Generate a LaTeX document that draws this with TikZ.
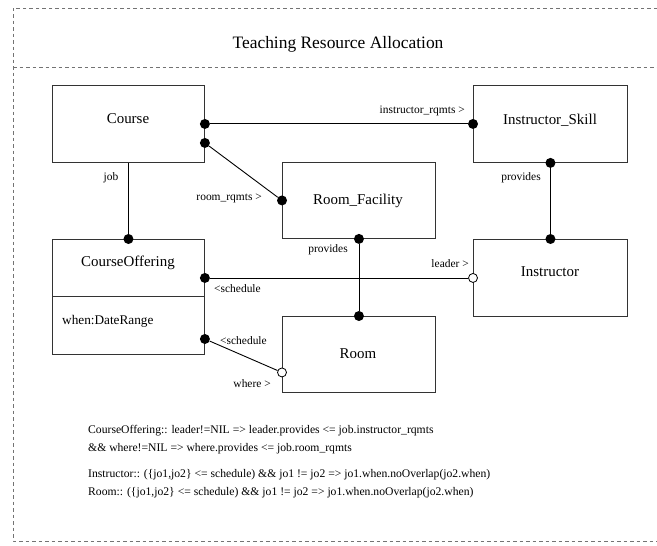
\documentclass[tikz,border=0pt]{standalone}
\usepackage{fontspec}
\setmainfont{Liberation Serif}
\begin{document}
\begin{tikzpicture}[x=1bp,y=-1bp,
  frameline/.style={draw=black!55, line width=0.8bp, dash pattern=on 3.5bp off 3bp},
  classbox/.style={draw=black!80, line width=0.9bp, minimum width=153bp, minimum height=77bp, inner sep=0pt, anchor=north west},
  boxtext/.style={inner sep=0pt, font=\fontsize{15}{18}\selectfont},
  roletext/.style={inner sep=0pt, font=\fontsize{11.5}{13}\selectfont},
  ruletext/.style={inner sep=0pt, anchor=west, font=\fontsize{11.7}{14}\selectfont},
  assoc/.style={draw=black, line width=0.9bp},
  dot/.style={circle, fill=black, inner sep=0pt, minimum size=10bp},
  opendot/.style={circle, draw=black, fill=white, line width=0.8bp, inner sep=0pt, minimum size=9bp}]

\useasboundingbox (0,0) rectangle (657,546);

% package frame with title compartment
\coordinate (ftl) at (13,8);
\coordinate (fsl) at (13,67);
\coordinate (fbl) at (13,541);
\draw[frameline] (ftl -| 657,0) -- (ftl) -- (fbl) -- (fbl -| 657,0);
\draw[frameline] (fsl) -- (fsl -| 657,0);
\node[inner sep=0pt, font=\fontsize{17.5}{20}\selectfont] (title) at (338,44) {Teaching Resource Allocation};

% classes
\node[classbox, minimum width=152bp] (course) at (52,85) {};
\node[classbox, minimum width=154bp] (skill) at (473,85) {};
\node[classbox, minimum height=76bp] (facility) at (282,162) {};
\node[classbox, minimum width=152bp, minimum height=115bp] (offering) at (52,239) {};
\node[classbox, minimum width=154bp] (instructor) at (473,239) {};
\node[classbox, minimum height=76bp] (room) at (282,316) {};

\node[boxtext] (course-name) at (128,119) {Course};
\node[boxtext] (skill-name) at (550,120) {Instructor\_Skill};
\node[boxtext] (facility-name) at (358,201) {Room\_Facility};
\node[boxtext] (offering-name) at (128,263) {CourseOffering};
\node[boxtext] (instructor-name) at (550,272) {Instructor};
\node[boxtext] (room-name) at (358,354) {Room};

% attribute compartment of CourseOffering
\coordinate (div-l) at (52,296);
\draw[draw=black!80, line width=0.9bp] (div-l) -- (div-l -| offering.east);
\node[inner sep=0pt, anchor=west, font=\fontsize{13.3}{16}\selectfont] (offering-attr) at (62,321) {when:DateRange};

% association ends
\node[dot] (course-ir) at (course.east) {};
\node[dot] (skill-ir) at (skill.west |- course.east) {};
\node[dot] (course-rr) at ([yshift=-19bp]course.east) {};
\node[dot] (facility-rr) at (facility.west) {};
\node[dot] (course-job) at (offering.north) {};
\node[dot] (skill-prov) at (skill.south) {};
\node[dot] (instructor-prov) at (instructor.north) {};
\node[dot] (facility-prov) at (facility.south) {};
\node[dot] (room-prov) at (room.north) {};
\node[dot] (offering-sched) at (offering.east |- instructor.west) {};
\node[opendot] (instructor-lead) at (instructor.west) {};
\node[dot] (offering-where) at ([yshift=-100bp]offering.north east) {};
\node[opendot] (room-where) at ([yshift=-18bp]room.west) {};

% associations
\draw[assoc] (course-ir) -- (skill-ir);
\draw[assoc] (course-rr) -- (facility-rr);
\draw[assoc] (course.south) -- (course-job);
\draw[assoc] (skill-prov) -- (instructor-prov);
\draw[assoc] (facility-prov) -- (room-prov);
\draw[assoc] (offering-sched) -- (instructor-lead);
\draw[assoc] (offering-where) -- (room-where);

% role names
\node[roletext, anchor=east] (l-ir) at (465,111) {instructor\_rqmts >};
\node[roletext, anchor=east] (l-rr) at (262,198) {room\_rqmts >};
\node[roletext] (l-job) at (111,178) {job};
\node[roletext] (l-sprov) at (521,178) {provides};
\node[roletext] (l-fprov) at (328,250) {provides};
\node[roletext, anchor=west] (l-sched1) at (214,289) {<schedule};
\node[roletext, anchor=east] (l-lead) at (469,264) {leader >};
\node[roletext, anchor=west] (l-sched2) at (220,341) {<schedule};
\node[roletext, anchor=east] (l-where) at (271,384) {where >};

% constraints
\node[ruletext] (rule1) at (88,431) {CourseOffering:: leader!=NIL => leader.provides <= job.instructor\_rqmts};
\node[ruletext] (rule2) at (88,449) {\&\& where!=NIL => where.provides <= job.room\_rqmts};
\node[ruletext] (rule3) at (88,475) {Instructor:: (\{jo1,jo2\} <= schedule) \&\& jo1 != jo2 => jo1.when.noOverlap(jo2.when)};
\node[ruletext] (rule4) at (88,493) {Room:: (\{jo1,jo2\} <= schedule) \&\& jo1 != jo2 => jo1.when.noOverlap(jo2.when)};
\end{tikzpicture}
\end{document}
